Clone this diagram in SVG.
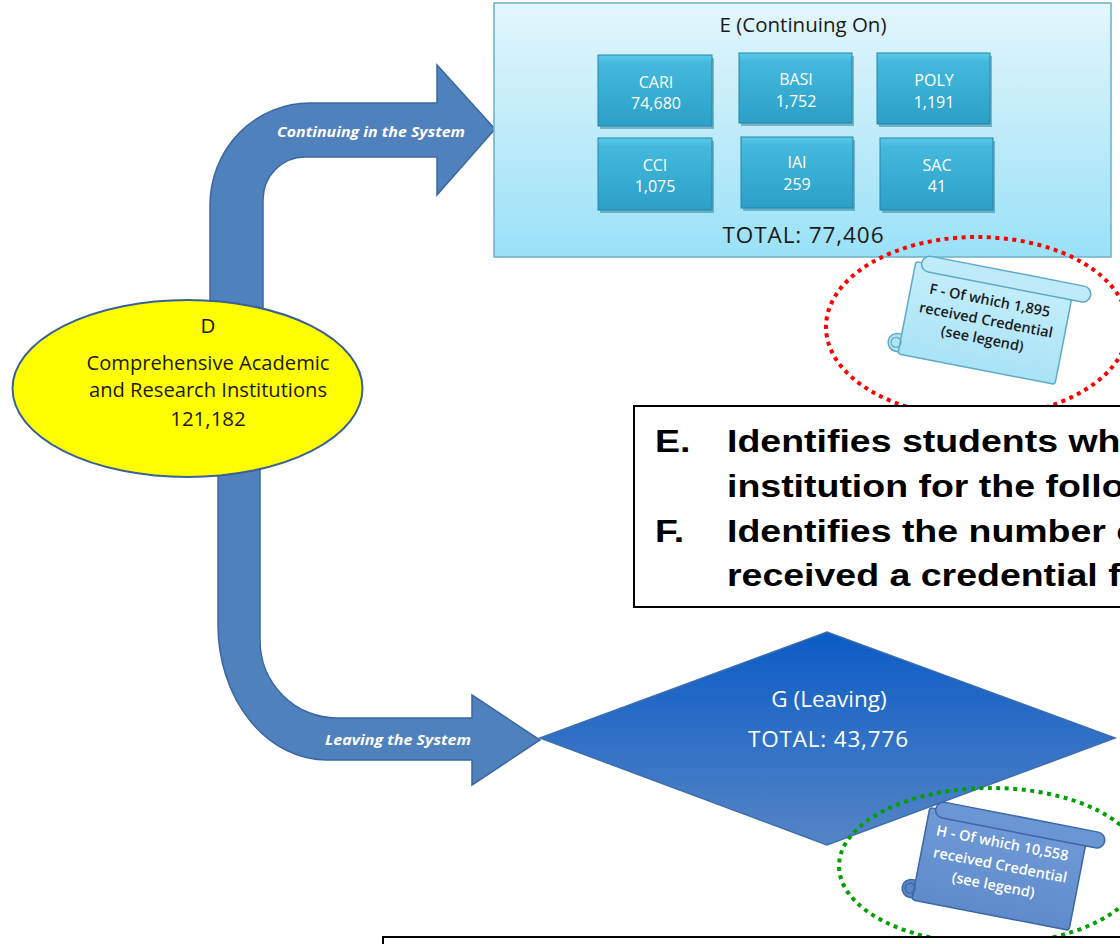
<svg xmlns="http://www.w3.org/2000/svg" width="1120" height="944" viewBox="0 0 1120 944">
<style>
.arrow{fill:#4f81bd;stroke:#3a67a3;stroke-width:1.5}
.alabel{font-family:"Open Sans","Noto Sans",sans-serif;font-weight:700;font-style:italic;font-size:15px;fill:#ffffff;text-anchor:middle}
.cal{font-family:"Open Sans","Noto Sans",sans-serif;text-anchor:middle}
.inbox{fill:url(#gInner);stroke:#2584a8;stroke-width:1}
.inshadow{fill:#1f6f8c;opacity:0.45}
.intext{font-family:"Open Sans","Noto Sans",sans-serif;font-size:16px;fill:#ffffff;text-anchor:middle}
.leg{font-family:"Liberation Sans",Arial,sans-serif;font-weight:700;font-size:31.5px;fill:#000000}
.legbox{fill:#ffffff;stroke:#000000;stroke-width:2}
.scrolltxt{font-family:"Open Sans","Noto Sans",sans-serif;font-size:14.5px;font-weight:600;text-anchor:middle}
</style>
<defs>
<linearGradient id="gE" x1="0" y1="0" x2="0" y2="1">
<stop offset="0" stop-color="#e3f6fc"/>
<stop offset="1" stop-color="#9ae1f7"/>
</linearGradient>
<linearGradient id="gInner" x1="0" y1="0" x2="0" y2="1">
<stop offset="0" stop-color="#5ccbe9"/>
<stop offset="0.12" stop-color="#44b9dd"/>
<stop offset="1" stop-color="#2b9fc6"/>
</linearGradient>
<linearGradient id="gG" x1="0" y1="0" x2="0" y2="1">
<stop offset="0" stop-color="#0b5cc6"/>
<stop offset="1" stop-color="#5585c5"/>
</linearGradient>
<linearGradient id="gF" x1="0" y1="0" x2="0" y2="1">
<stop offset="0" stop-color="#c4eefb"/>
<stop offset="1" stop-color="#a9e3f6"/>
</linearGradient>
<linearGradient id="gH" x1="0" y1="0" x2="0" y2="1">
<stop offset="0" stop-color="#6f9ad6"/>
<stop offset="1" stop-color="#5f8bcb"/>
</linearGradient>
<clipPath id="page"><rect x="0" y="0" width="1120" height="944"/></clipPath>
</defs>

<g id="connectors">
<g id="arrow-continuing">
<path class="arrow" d="M 210 312 V 205 A 100 102 0 0 1 310 103 H 437 V 65 L 495 129 L 437 195 V 157 H 305 A 42 43 0 0 0 263 200 V 312 Z"/>
<text class="alabel" x="371" y="137" textLength="188" lengthAdjust="spacingAndGlyphs">Continuing in the System</text>
</g>
<g id="arrow-leaving">
<path class="arrow" d="M 218 460 V 625 A 109 135 0 0 0 327 760 H 472 V 785 L 540 740 L 472 695 V 718 H 337 A 77 78 0 0 1 260 640 V 460 Z"/>
<text class="alabel" x="398" y="745" textLength="146" lengthAdjust="spacingAndGlyphs">Leaving the System</text>
</g>
</g>

<g id="node-D">
<ellipse cx="187.5" cy="388.5" rx="175" ry="88.5" fill="#ffff00" stroke="#3a6196" stroke-width="2"/>
<text class="cal" x="208" y="333" font-size="20.5" fill="#1a1a1a">D</text>
<text class="cal" x="208" y="370" font-size="20" fill="#1a1a1a" textLength="243" lengthAdjust="spacingAndGlyphs">Comprehensive Academic</text>
<text class="cal" x="208" y="397" font-size="20" fill="#1a1a1a" textLength="238" lengthAdjust="spacingAndGlyphs">and Research Institutions</text>
<text class="cal" x="208" y="426" font-size="20.5" fill="#1a1a1a">121,182</text>
</g>

<g id="node-E">
<rect x="494" y="3" width="617" height="254" fill="url(#gE)" stroke="#6cb1c7" stroke-width="1.5"/>
<text class="cal" x="803" y="32" font-size="20.5" fill="#1a1a1a">E (Continuing On)</text>
<g id="box-CARI">
<rect class="inshadow" x="600" y="58" width="114" height="71"/>
<rect class="inbox" x="598" y="55" width="114" height="71"/>
<text class="intext" x="656" y="88">CARI</text>
<text class="intext" x="656" y="109">74,680</text>
</g>
<g id="box-BASI">
<rect class="inshadow" x="741" y="56" width="113" height="70"/>
<rect class="inbox" x="739" y="53" width="113" height="70"/>
<text class="intext" x="796" y="85">BASI</text>
<text class="intext" x="796" y="107">1,752</text>
</g>
<g id="box-POLY">
<rect class="inshadow" x="879" y="56" width="113" height="71"/>
<rect class="inbox" x="877" y="53" width="113" height="71"/>
<text class="intext" x="934" y="86">POLY</text>
<text class="intext" x="934" y="108">1,191</text>
</g>
<g id="box-CCI">
<rect class="inshadow" x="600" y="141" width="114" height="72"/>
<rect class="inbox" x="598" y="138" width="114" height="72"/>
<text class="intext" x="655" y="171">CCI</text>
<text class="intext" x="655" y="192">1,075</text>
</g>
<g id="box-IAI">
<rect class="inshadow" x="743" y="140" width="112" height="71"/>
<rect class="inbox" x="741" y="137" width="112" height="71"/>
<text class="intext" x="797" y="168">IAI</text>
<text class="intext" x="797" y="190">259</text>
</g>
<g id="box-SAC">
<rect class="inshadow" x="882" y="141" width="113" height="72"/>
<rect class="inbox" x="880" y="138" width="113" height="72"/>
<text class="intext" x="937" y="171">SAC</text>
<text class="intext" x="937" y="192">41</text>
</g>
<text class="cal" x="803" y="243" font-size="22.5" fill="#1a1a1a" textLength="161" lengthAdjust="spacing">TOTAL: 77,406</text>
</g>

<g id="node-F">
<g transform="translate(986,320) rotate(11)">
<rect x="-92" y="30" width="26" height="18" rx="9" fill="#aee4f6" stroke="#5fa9c6" stroke-width="1.5"/>
<rect x="-80" y="-44" width="160" height="94" rx="3" fill="url(#gF)" stroke="#5fa9c6" stroke-width="1.5"/>
<rect x="-74" y="-52" width="172" height="16" rx="8" fill="#bdebfa" stroke="#5fa9c6" stroke-width="1.5"/>
<circle cx="-84" cy="39" r="5" fill="none" stroke="#5fa9c6" stroke-width="1.2"/>
<text class="scrolltxt" x="0" y="-15" fill="#1b1b1b">F  - Of which 1,895</text>
<text class="scrolltxt" x="0" y="5" fill="#1b1b1b">received Credential</text>
<text class="scrolltxt" x="0" y="24" fill="#1b1b1b">(see legend)</text>
</g>
<ellipse cx="977" cy="327" rx="151" ry="90" fill="none" stroke="#ff0000" stroke-width="4" stroke-dasharray="4 4.5"/>
</g>

<g id="legend-EF" clip-path="url(#page)">
<rect class="legbox" x="634" y="406" width="520" height="201"/>
<text class="leg" transform="translate(655,452) scale(1.19,1)">E.</text>
<text class="leg" transform="translate(727,452) scale(1.19,1)">Identifies students who</text>
<text class="leg" transform="translate(727,497) scale(1.19,1)">institution for the following</text>
<text class="leg" transform="translate(655,542) scale(1.19,1)">F.</text>
<text class="leg" transform="translate(727,542) scale(1.19,1)">Identifies the number of</text>
<text class="leg" transform="translate(727,586) scale(1.19,1)">received a credential from</text>
</g>

<g id="node-G">
<path d="M 540 738 L 827 632 L 1115 738 L 827 845 Z" fill="url(#gG)" stroke="#3d6db0" stroke-width="1.5"/>
<text class="cal" x="829" y="707" font-size="22.5" fill="#ffffff">G (Leaving)</text>
<text class="cal" x="828" y="747" font-size="22.5" fill="#ffffff" textLength="160" lengthAdjust="spacing">TOTAL: 43,776</text>
</g>

<g id="node-H">
<g transform="translate(1000,866) rotate(11)">
<rect x="-92" y="30" width="26" height="18" rx="9" fill="#5a86c8" stroke="#3d67a6" stroke-width="1.5"/>
<rect x="-80" y="-44" width="160" height="94" rx="3" fill="url(#gH)" stroke="#3d67a6" stroke-width="1.5"/>
<rect x="-74" y="-52" width="172" height="16" rx="8" fill="#6a96d4" stroke="#3d67a6" stroke-width="1.5"/>
<circle cx="-84" cy="39" r="5" fill="none" stroke="#3d67a6" stroke-width="1.2"/>
<text class="scrolltxt" x="-2" y="-18" fill="#ffffff">H  - Of which 10,558</text>
<text class="scrolltxt" x="0" y="4" fill="#ffffff">received Credential</text>
<text class="scrolltxt" x="-3" y="25" fill="#ffffff">(see legend)</text>
</g>
<ellipse cx="991" cy="866" rx="152" ry="78" fill="none" stroke="#00a000" stroke-width="4" stroke-dasharray="4 4.5"/>
</g>

<g id="legend-GH" clip-path="url(#page)">
<rect class="legbox" x="383" y="937" width="760" height="40"/>
</g>
</svg>
